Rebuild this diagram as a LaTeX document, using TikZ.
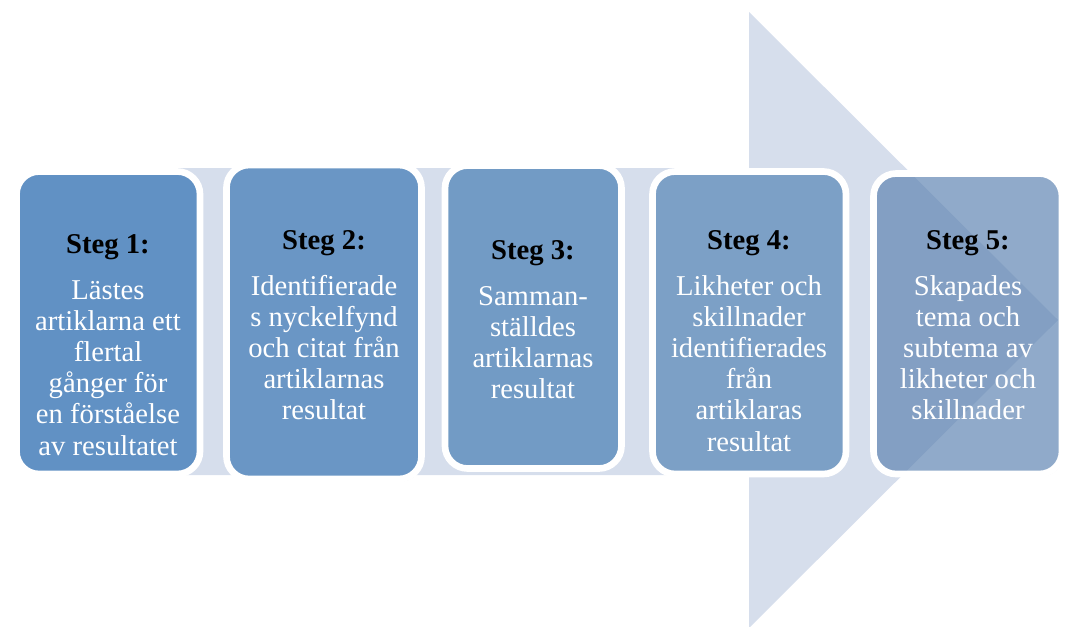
\documentclass[tikz,border=0pt]{standalone}
\usepackage{fontspec}
\setmainfont{Liberation Serif}
\usetikzlibrary{shadows}

\definecolor{arrowbg}{RGB}{214,222,236}
\definecolor{stepA}{RGB}{97,145,196}
\definecolor{stepB}{RGB}{106,150,197}
\definecolor{stepC}{RGB}{114,155,197}
\definecolor{stepD}{RGB}{124,160,198}
\definecolor{stepE}{RGB}{79,129,189}

\begin{document}
\begin{tikzpicture}[x=0.75pt,y=-0.75pt,
    stepbox/.style={draw=white,line width=5pt,rounded corners=17pt,inner sep=0pt,
      drop shadow={opacity=0.3,shadow xshift=1.2pt,shadow yshift=-1.8pt}},
    steptext/.style={align=center,anchor=north,inner sep=0pt,text=white,
      font=\fontsize{21.5}{23.4}\selectfont}]
  \useasboundingbox (0,0) rectangle (1066,626);
  % big arrow behind the steps
  \fill[arrowbg] (108,168) -- (749,168) -- (749,12) -- (1058,320)
    -- (749,628) -- (749,475) -- (108,475) -- cycle;
  % the five boxes
  \foreach \n/\cx/\cy/\w/\h/\col/\op in {1/108.25/322.75/183.5/302.5/stepA/1,
      2/324/322/195/314/stepB/1, 3/533.25/317/176.5/303/stepC/1,
      4/749.25/322.75/193.5/302.5/stepD/1, 5/967.75/323.75/188.5/300.5/stepE/0.52} {
    \node[stepbox,fill=\col,fill opacity=\op,minimum width=\w*0.75pt,
      minimum height=\h*0.75pt] (box\n) at (\cx,\cy) {};
  }
  \node[steptext] (txt1) at (108,234) {\textcolor{black}{\textbf{Steg 1:}}\\[11pt]
    Lästes\\artiklarna ett\\flertal\\gånger för\\en förståelse\\av resultatet};
  \node[steptext] (txt2) at (324,230) {\textcolor{black}{\textbf{Steg 2:}}\\[11pt]
    Identifierade\\s nyckelfynd\\och citat från\\artiklarnas\\resultat};
  \node[steptext] (txt3) at (533,240) {\textcolor{black}{\textbf{Steg 3:}}\\[11pt]
    Samman-\\ställdes\\artiklarnas\\resultat};
  \node[steptext] (txt4) at (749,230) {\textcolor{black}{\textbf{Steg 4:}}\\[11pt]
    Likheter och\\skillnader\\identifierades\\från\\artiklaras\\resultat};
  \node[steptext] (txt5) at (968,230) {\textcolor{black}{\textbf{Steg 5:}}\\[11pt]
    Skapades\\tema och\\subtema av\\likheter och\\skillnader};
\end{tikzpicture}
\end{document}
